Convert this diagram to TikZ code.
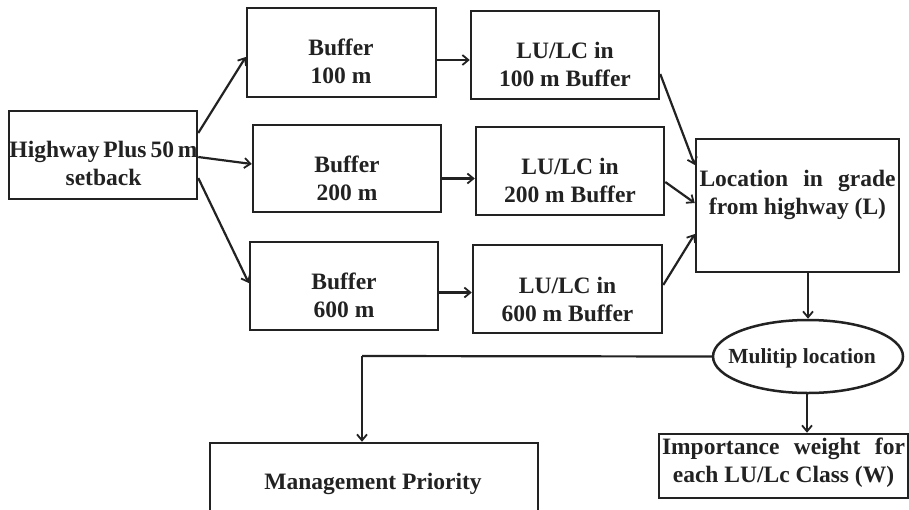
\documentclass[tikz,border=0pt]{standalone}
\usepackage{fontspec}
\setmainfont{Liberation Serif}
\usetikzlibrary{arrows.meta,shapes.geometric}
\definecolor{ink}{HTML}{222222}
\begin{document}
\begin{tikzpicture}[x=1pt,y=-1pt,
  box/.style={draw=ink, line width=2.5pt, rectangle, inner sep=0pt},
  lbl/.style={font=\bfseries\fontsize{23.5}{28}\selectfont, align=center, inner sep=0pt, text=ink},
  conn/.style={draw=ink, line width=2.2pt, -{Straight Barb[length=6pt,width=10pt,line width=1.8pt]}},
  plain/.style={draw=ink, line width=2.2pt}
]
\clip (0,0) rectangle (909,509);
\fill[white] (0,0) rectangle (909,509);

% boxes
\node[box, minimum width=188pt, minimum height=88pt] (hw) at (103,155) {};
\node[box, minimum width=189pt, minimum height=89pt] (b1) at (341.5,52.5) {};
\node[box, minimum width=188pt, minimum height=87pt] (b2) at (347,168.5) {};
\node[box, minimum width=188pt, minimum height=88pt] (b3) at (344,286) {};
\node[box, minimum width=188pt, minimum height=88pt] (lu1) at (565,55) {};
\node[box, minimum width=188pt, minimum height=88pt] (lu2) at (570,171) {};
\node[box, minimum width=189pt, minimum height=88pt] (lu3) at (567.5,289) {};
\node[box, minimum width=203pt, minimum height=133pt] (loc) at (797.5,205.5) {};
\node[draw=ink, line width=2.5pt, ellipse, inner sep=0pt, minimum width=190pt, minimum height=73pt] (el) at (808,356.5) {};
\node[box, minimum width=249pt, minimum height=64pt] (imp) at (783.5,466) {};
\node[box, minimum width=328pt, minimum height=97pt] (mg) at (374,491.5) {};

% texts
\node[lbl] (thw) at (103.5,163.5) {Highway\,Plus\,50\,m\\setback};
\node[lbl] (tb1) at (341,61.5) {Buffer\\100 m};
\node[lbl] (tb2) at (347,178.5) {Buffer\\200 m};
\node[lbl] (tb3) at (344,295.5) {Buffer\\600 m};
\node[lbl] (tlu1) at (565,64.5) {LU/LC in\\100 m Buffer};
\node[lbl] (tlu2) at (570,180) {LU/LC in\\200 m Buffer};
\node[lbl] (tlu3) at (567.5,299) {LU/LC in\\600 m Buffer};
\node[lbl] (tloc) at (797.5,194.5) {\makebox[196pt][s]{Location in grade}\\from highway (L)};
\node[lbl, font=\bfseries\fontsize{21.5}{24}\selectfont] (tel) at (802,358) {Mulitip location};
\node[lbl] (timp) at (783.5,462.5) {\makebox[243pt][s]{Importance weight for}\\each LU/Lc Class (W)};
\node[lbl] (tmg) at (373,483.5) {Management Priority};

% connectors
\draw[conn] ([yshift=22pt]hw.east) -- ([yshift=-4.5pt]b1.west);
\draw[conn] ([yshift=-2pt]hw.east) -- ([yshift=4.5pt]b2.west);
\draw[conn] ([yshift=-23pt]hw.east) -- ([yshift=3pt]b3.west);

\draw[conn] ([yshift=-7.5pt]b1.east) -- ([yshift=-7.5pt]b1.east -| lu1.west);
\draw[conn] ([yshift=-10pt]b2.east) -- ([yshift=-10pt]b2.east -| lu2.west);
\draw[conn] ([yshift=-6.5pt]b3.east) -- ([yshift=-6.5pt]b3.east -| lu3.west);

\draw[conn] ([yshift=-19pt]lu1.east) -- ([yshift=40.5pt]loc.west);
\draw[conn] ([yshift=-11pt]lu2.east) -- ([yshift=2.5pt]loc.west);
\draw[conn] ([yshift=4pt]lu3.east) -- ([yshift=-28.5pt]loc.west);

\draw[conn] (loc.south -| el.north) -- (el.north);
\draw[conn] ([xshift=-1pt]el.south) -- ([xshift=-1pt]el.south |- imp.north);
\coordinate (corner) at (362,356);
\draw[plain] (el.west) -- (corner);
\draw[conn] (corner) -- (corner |- mg.north);
\end{tikzpicture}
\end{document}
